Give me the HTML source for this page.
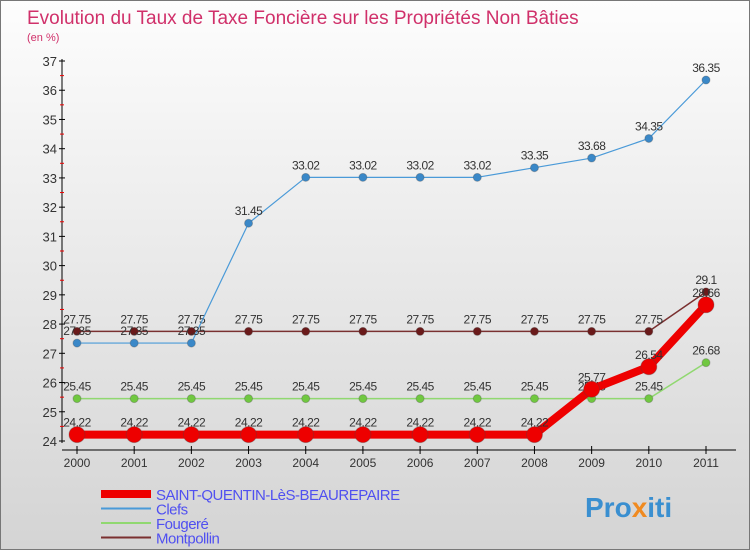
<!DOCTYPE html>
<html><head><meta charset="utf-8"><style>
body{margin:0;width:750px;height:550px;overflow:hidden;font-family:"Liberation Sans",sans-serif}
#c{position:absolute;left:0;top:0;width:748px;height:548px;border:1px solid #777;background:linear-gradient(#fdfdfd,#d4d4d4)}
</style></head><body>
<div id="c">
<svg id="s" width="750" height="550">
<text x="26" y="23" font-size="19" fill="#d0306a">Evolution du Taux de Taxe Foncière sur les Propriétés Non Bâties</text>
<text x="26" y="40" font-size="11" fill="#d0306a">(en %)</text>
<g id="axes"></g><g id="series"></g><g id="legend"></g>
<text x="584" y="516" font-size="28" font-weight="bold" fill="#3a8fd0">Pro<tspan fill="#f08a20">x</tspan>iti</text>
</svg></div>
<script>
const years=[2000,2001,2002,2003,2004,2005,2006,2007,2008,2009,2010,2011];
const yTicks=[24,25,26,27,28,29,30,31,32,33,34,35,36,37];
const saint=[24.22,24.22,24.22,24.22,24.22,24.22,24.22,24.22,24.22,25.77,26.54,28.66];
const clefs=[27.35,27.35,27.35,31.45,33.02,33.02,33.02,33.02,33.35,33.68,34.35,36.35];
const fouger=[25.45,25.45,25.45,25.45,25.45,25.45,25.45,25.45,25.45,25.45,25.45,26.68];
const montp=[27.75,27.75,27.75,27.75,27.75,27.75,27.75,27.75,27.75,27.75,27.75,29.1];
const names=["SAINT-QUENTIN-LèS-BEAUREPAIRE","Clefs","Fougeré","Montpollin"];
const NS="http://www.w3.org/2000/svg";
const X=i=>76+i*(705-76)/(years.length-1);
const Y=v=>440-(v-24)*(380/13);
function mk(t,a,p){const e=document.createElementNS(NS,t);for(const k in a)e.setAttribute(k,a[k]);p.appendChild(e);return e;}
const ax=document.getElementById('axes');
let e=mk('line',{x1:61,y1:58,x2:61,y2:442,stroke:'#000'},ax);


e=mk('line',{x1:61,y1:449,x2:735,y2:449,stroke:'#000'},ax);


yTicks.forEach((t,i)=>{const y=Y(t);mk('line',{x1:58,y1:y,x2:64,y2:y,stroke:'#000'},ax);
 if(i<yTicks.length-1)mk('line',{x1:59,y1:Y(t+0.5),x2:63,y2:Y(t+0.5),stroke:'#e00'},ax);
 const l=mk('text',{x:56,y:y+5,'font-size':13,'text-anchor':'end',fill:'#333'},ax);l.textContent=t;
 
 });
years.forEach((yr,i)=>{const x=X(i);mk('line',{x1:x,y1:445,x2:x,y2:453,stroke:'#000'},ax);
 const l=mk('text',{x:x,y:466,'font-size':12,'text-anchor':'middle',fill:'#333'},ax);l.textContent=yr;
 
 });
const sg=document.getElementById('series');
const defs=[[montp,'#7a3030','#6a1a1a',1.5,4,'montpollin'],[fouger,'#90d870','#70c840',1.5,4,'fougere'],[clefs,'#4a9ad8','#3a88c8',1.2,4,'clefs'],[saint,'#ee0000','#ee0000',8,8,'saint-quentin']];
defs.forEach(([d,lc,pc,w,r,n])=>{const g=mk('g',{},sg);
 
 
 mk('polyline',{points:d.map((v,i)=>X(i)+','+Y(v)).join(' '),fill:'none',stroke:lc,'stroke-width':w,'stroke-linejoin':'round'},g);
 d.forEach((v,i)=>{const c=mk('circle',{cx:X(i),cy:Y(v),r:r,fill:pc,stroke:'#444','stroke-opacity':0.3},g);
 
 
 const t=mk('text',{x:X(i),y:Y(v)-8,'font-size':12,'text-anchor':'middle',fill:'#333','letter-spacing':'-0.5'},g);t.textContent=String(v);
 
 });});
const lg=document.getElementById('legend');
const lc=['#ee0000','#4a9ad8','#90d870','#7a3030'],lw=[8,2,2,2];
names.forEach((n,i)=>{const y=493+i*14.5;const g=mk('g',{},lg);
 
 
 mk('line',{x1:100,y1:y,x2:150,y2:y,stroke:lc[i],'stroke-width':lw[i]},g);
 const t=mk('text',{x:155,y:y+6,'font-size':15,fill:'#5050f0','letter-spacing':'-0.5'},g);t.textContent=n;});
</script></body></html>
